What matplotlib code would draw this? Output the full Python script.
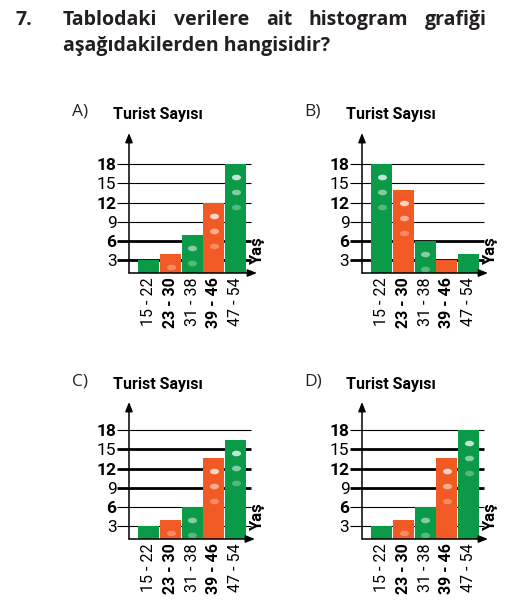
import matplotlib
matplotlib.use('Agg')
import matplotlib.pyplot as plt
from matplotlib.path import Path
import numpy as np

# data
categories = ['15 - 22', '23 - 30', '31 - 38', '39 - 46', '47 - 54']
values_a = [3, 4, 7, 12, 18]
values_b = [18, 14, 6, 3, 4]
values_c = [3, 4, 6, 13.7, 16.5]
values_d = [3, 4, 6, 13.7, 18]
yticks = [3, 6, 9, 12, 15, 18]
ytick_labels = ['3', '6', '9', '12', '15', '18']

# style
W, H = 527, 603
GREEN = '#0b9a48'
ORANGE = '#f15a24'
bar_colors = [GREEN, ORANGE, GREEN, ORANGE, GREEN]
bold_x = [False, True, False, True, False]
bold_y = [False, True, False, True, False, True]
NARROW = ['Roboto', 'DejaVu Sans']
SANS = ['Open Sans', 'DejaVu Sans']

px_unit = 6.4      # pixels per y unit
bar_pitch = 21.7   # pixels per bar

# panels: name, values, thick gridlines, dot counts, y-axis x, baseline y, arrow top y, arrow right x
panels = [
    ('A)', values_a, [3, 6], [0, 1, 2, 3, 3], 129, 273, 133, 257),
    ('B)', values_b, [3, 6], [3, 3, 2, 0, 0], 362, 273, 133, 488),
    ('C)', values_c, [9, 12, 15], [0, 1, 2, 3, 3], 129, 539, 402, 255),
    ('D)', values_d, [9, 12, 15], [0, 1, 2, 3, 3], 362, 539, 402, 488),
]

t = np.linspace(0, 2 * np.pi, 40)
pill = Path(np.column_stack([np.cos(t), 0.62 * np.sin(t)]))

fig = plt.figure(figsize=(W / 100, H / 100), dpi=100)


def fx(px):
    return px / W


def fy(py):
    return 1 - py / H


# title, first line justified between x=63 and x=487
title1 = ['Tablodaki', 'verilere', 'ait', 'histogram', 'grafiği']
tkw = dict(fontsize=14, fontweight='bold', family=SANS, va='center', color='#231f20')
fig.text(fx(15), fy(20), '7.', **tkw)
words = [fig.text(0, fy(20), w, **tkw) for w in title1]
rend = fig.canvas.get_renderer()
widths = [w.get_window_extent(rend).width for w in words]
gap = (487 - 63 - sum(widths)) / (len(words) - 1)
xpos = 63
for w, wd in zip(words, widths):
    w.set_x(fx(xpos))
    xpos += wd + gap
fig.text(fx(63), fy(46), 'aşağıdakilerden hangisidir?', **tkw)

for name, vals, thick, ndots, L, B, T, R in panels:
    ax = fig.add_axes([fx(L), fy(B), fx(R - L), (B - T) / H])
    xs = np.arange(len(vals))
    xleft = -(138 + bar_pitch / 2 - 129) / bar_pitch
    ax.set_xlim(xleft, xleft + (R - L) / bar_pitch)
    ax.set_ylim(1, 1 + (B - T) / px_unit)
    for s in ax.spines.values():
        s.set_visible(False)

    # gridlines behind bars
    gx0 = xleft - 12 / bar_pitch
    gx1 = xleft + 122 / bar_pitch
    for yv in yticks:
        lw = 2.0 if yv in thick else 0.8
        ax.plot([gx0, gx1], [yv, yv], color='black', lw=lw, clip_on=False, zorder=1,
                solid_capstyle='butt')

    ax.bar(xs, vals, width=0.97, bottom=0, color=bar_colors, zorder=2)

    # decorative dots
    for i, v in enumerate(vals):
        n = ndots[i]
        alphas = [0.75, 0.5, 0.3][3 - n:] if n else []
        for k in range(n):
            yd = v - 13 / px_unit - k * 15 / px_unit
            ax.plot(xs[i], yd, marker=pill, ms=6.5, color='white', alpha=alphas[k],
                    mew=0, zorder=3)

    # axes with arrows
    arrow = dict(arrowstyle='-|>,head_length=0.55,head_width=0.22', color='black', lw=1.1,
                 shrinkA=0, shrinkB=0)
    ax.annotate('', xy=(0, 1), xytext=(0, 0), xycoords='axes fraction', arrowprops=arrow,
                annotation_clip=False, zorder=5)
    ax.annotate('', xy=(1, 0), xytext=(0, 0), xycoords='axes fraction', arrowprops=arrow,
                annotation_clip=False, zorder=5)

    ax.set_yticks(yticks)
    ax.set_yticklabels(ytick_labels, family=NARROW, fontsize=12.5)
    for lab, b in zip(ax.get_yticklabels(), bold_y):
        lab.set_fontweight('bold' if b else 'normal')
    ax.tick_params(axis='y', length=0, pad=9)

    ax.set_xticks(xs)
    ax.set_xticklabels(categories, rotation=90, family=NARROW, fontsize=11.5)
    for lab, b in zip(ax.get_xticklabels(), bold_x):
        lab.set_fontweight('bold' if b else 'normal')
    ax.tick_params(axis='x', length=0, pad=3)

    # labels
    fig.text(fx(L - 49), fy(T - 21), name, fontsize=12.5, family=SANS, va='center', ha='center',
             color='#222222')
    fig.text(fx(L - 16), fy(T - 18), 'Turist Sayısı', fontsize=11.5, fontweight='bold', family=NARROW,
             va='center', ha='left')
    fig.text(fx(L + 129), fy(B - 22), 'Yaş', fontsize=12, fontweight='bold', family=NARROW,
             rotation=90, va='center', ha='center')

fig.savefig('out.png', dpi=100, facecolor='white')
